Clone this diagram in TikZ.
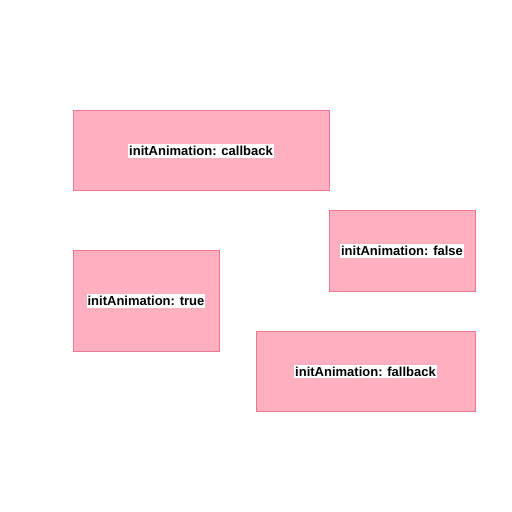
\documentclass[tikz,border=0pt]{standalone}
\usepackage{fontspec}
\setmainfont{Liberation Sans}
\definecolor{boxfill}{HTML}{FFB0C0}
\definecolor{boxline}{HTML}{F07890}
\begin{document}
\begin{tikzpicture}[x=1pt,y=-1pt,
  pinkbox/.style={draw=boxline,fill=boxfill,line width=1pt},
  lbl/.style={fill=white,inner xsep=1pt,inner ysep=2pt,font=\fontsize{13}{15}\selectfont\bfseries}]
\useasboundingbox[fill=white] (0,0) rectangle (512,512);
\draw[pinkbox] (73,110) rectangle (329,190);
\node[lbl] (callback) at (201,151) {initAnimation: callback};
\draw[pinkbox] (329,210) rectangle (475,291);
\node[lbl] (false) at (402,251) {initAnimation: false};
\draw[pinkbox] (73,250) rectangle (219,351);
\node[lbl] (true) at (146,301) {initAnimation: true};
\draw[pinkbox] (256,331) rectangle (475,411);
\node[lbl] (fallback) at (365.5,371.5) {initAnimation: fallback};
\end{tikzpicture}
\end{document}
